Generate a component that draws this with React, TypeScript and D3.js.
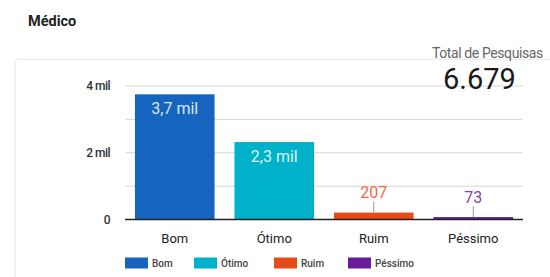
import React from "react";
import * as d3 from "d3";

const categories = ["Bom", "Ótimo", "Ruim", "Péssimo"];
const values = [3750, 2320, 207, 73];
const valueLabels = ["3,7 mil", "2,3 mil", "207", "73"];
const colors = ["#1565C0", "#00B2C9", "#E64A19", "#6A1B9A"];
const labelColors = ["#DCE6F5", "#D8F4F7", "#F06A45", "#8A3FB0"];
const yTicks = [0, 2000, 4000];
const yTickLabels = ["0", "2 mil", "4 mil"];
const gridTicks = [1000, 2000, 3000, 4000];
const title = "Médico";
const totalLabel = "Total de Pesquisas";
const totalValue = "6.679";

const W = 550;
const H = 277;
const FONT = "Roboto, 'Noto Sans', sans-serif";

export default function App() {
  const x = d3.scaleBand<string>().domain(categories).range([125, 523]).paddingInner(0.2).paddingOuter(0.1);
  const y = d3.scaleLinear().domain([0, 4000]).range([219.5, 86]);
  const insideThreshold = 1000;
  const legendX = [125, 194, 274, 348];

  return (
    <svg width={W} height={H} style={{ position: "fixed", left: 0, top: 0, background: "#fff" }}>
      <defs>
        <filter id="sh" x="-5%" y="-5%" width="110%" height="120%">
          <feDropShadow dx="0" dy="0" stdDeviation="1.5" floodColor="#000" floodOpacity="0.18" />
        </filter>
      </defs>
      <rect x={0} y={0} width={W} height={H} fill="#fff" />
      <rect x={16} y={60} width={560} height={240} fill="#fff" filter="url(#sh)" />
      <text x={28} y={26} fontFamily={FONT} fontWeight={700} fontSize={14.5} fill="#222">{title}</text>

      {gridTicks.map((t) => (
        <line key={t} x1={125} x2={523} y1={y(t)} y2={y(t)} stroke="#d6d6d6" strokeWidth={1} />
      ))}
      {yTicks.map((t, i) => (
        <text key={t} x={110} y={y(t)} dy="0.35em" textAnchor="end" fontFamily={FONT} fontWeight={500} fontSize={12} fill="#333" letterSpacing={-0.5}>
          {yTickLabels[i]}
        </text>
      ))}

      {categories.map((c, i) => {
        const bx = x(c)!;
        const bw = x.bandwidth();
        const top = y(values[i]);
        const cx = bx + bw / 2;
        const inside = values[i] > insideThreshold;
        return (
          <g key={c}>
            <rect x={bx} y={top} width={bw} height={y(0) - top} fill={colors[i]} />
            {inside ? (
              <text x={cx} y={top + 14} textAnchor="middle" dy="0.35em" fontFamily={FONT} fontSize={16} fill={labelColors[i]}>
                {valueLabels[i]}
              </text>
            ) : (
              <g>
                <line x1={cx} x2={cx} y1={top - 11} y2={top} stroke="#999" strokeWidth={1} />
                <text x={cx} y={top - 20} textAnchor="middle" dy="0.35em" fontFamily={FONT} fontSize={16} fill={labelColors[i]}>
                  {valueLabels[i]}
                </text>
              </g>
            )}
            <text x={cx} y={238} textAnchor="middle" dy="0.35em" fontFamily={FONT} fontSize={13} fill="#222">{c}</text>
          </g>
        );
      })}
      <line x1={125} x2={523} y1={y(0)} y2={y(0)} stroke="#222" strokeWidth={1.5} />

      {categories.map((c, i) => (
        <g key={"lg" + c}>
          <rect x={legendX[i]} y={257.5} width={23} height={11} fill={colors[i]} />
          <text x={legendX[i] + 27} y={263} dy="0.35em" fontFamily={FONT} fontWeight={500} fontSize={10} fill="#444">{c}</text>
        </g>
      ))}

      <text x={432} y={53.5} dy="0.35em" fontFamily={FONT} fontSize={14} fill="#666" letterSpacing={-0.4}>{totalLabel}</text>
      <text x={443} y={89} fontFamily={FONT} fontSize={29} fill="#1a1a1a">{totalValue}</text>
    </svg>
  );
}
